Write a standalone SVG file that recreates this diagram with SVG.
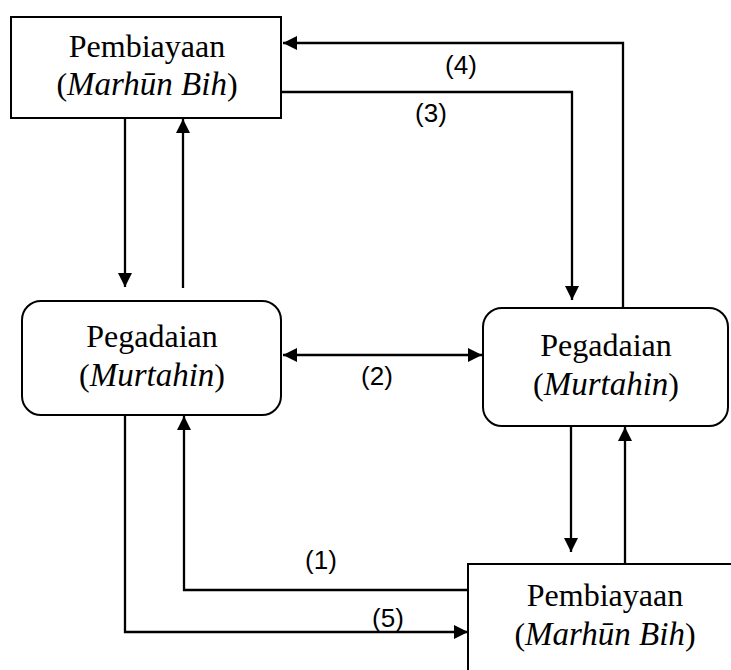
<svg xmlns="http://www.w3.org/2000/svg" width="731" height="670" viewBox="0 0 731 670">
<defs>
<marker id="ah" markerUnits="userSpaceOnUse" markerWidth="15" markerHeight="14" refX="14" refY="7" orient="auto-start-reverse" viewBox="0 0 15 14">
<path d="M0,0 L14,7 L0,14 z" fill="#000"/>
</marker>
<style>
.box{fill:#fff;stroke:#000;stroke-width:2}
.t{font-family:"Liberation Serif","Times New Roman",serif;font-size:32px;fill:#000;text-anchor:middle}
.i{font-style:italic;font-size:33px}
.c{fill:none;stroke:#000;stroke-width:2.3}
.a{marker-end:url(#ah)}
.lb{font-family:"Liberation Sans",Arial,sans-serif;font-size:26px;fill:#000;text-anchor:middle}
</style>
</defs>
<rect width="731" height="670" fill="#fff"/>
<g id="connectors">
<path class="c a" d="M125,118 V287"/>
<path class="c a" d="M183,288 V119"/>
<path class="c a" d="M282,92 H572 V300"/>
<path class="c a" d="M623,308 V43 H283"/>
<path class="c a" d="M283,355 H482" marker-start="url(#ah)"/>
<path class="c a" d="M125,415 V632 H468"/>
<path class="c a" d="M468,590 H184 V416"/>
<path class="c a" d="M571,426 V552"/>
<path class="c a" d="M625,564 V427"/>
<text class="lb" x="461" y="74">(4)</text>
<text class="lb" x="431" y="122">(3)</text>
<text class="lb" x="377" y="385">(2)</text>
<text class="lb" x="321" y="569">(1)</text>
<text class="lb" x="388" y="627">(5)</text>
</g>
<g id="pembiayaan-top">
<rect class="box" x="11" y="17" width="270" height="101"/>
<text class="t" x="147" y="57">Pembiayaan</text>
<text class="t" x="147" y="95">(<tspan class="i">Marhūn Bih</tspan>)</text>
</g>
<g id="pegadaian-left">
<rect class="box" x="22" y="301" width="259" height="114" rx="19" ry="19"/>
<text class="t" x="152" y="347">Pegadaian</text>
<text class="t" x="152" y="386">(<tspan class="i">Murtahin</tspan>)</text>
</g>
<g id="pegadaian-right">
<rect class="box" x="483" y="308" width="245" height="118" rx="19" ry="19"/>
<text class="t" x="606" y="356">Pegadaian</text>
<text class="t" x="606" y="395">(<tspan class="i">Murtahin</tspan>)</text>
</g>
<g id="pembiayaan-bottom">
<rect class="box" x="468" y="564" width="274" height="120"/>
<text class="t" x="605" y="606">Pembiayaan</text>
<text class="t" x="605" y="645">(<tspan class="i">Marhūn Bih</tspan>)</text>
</g>
</svg>
